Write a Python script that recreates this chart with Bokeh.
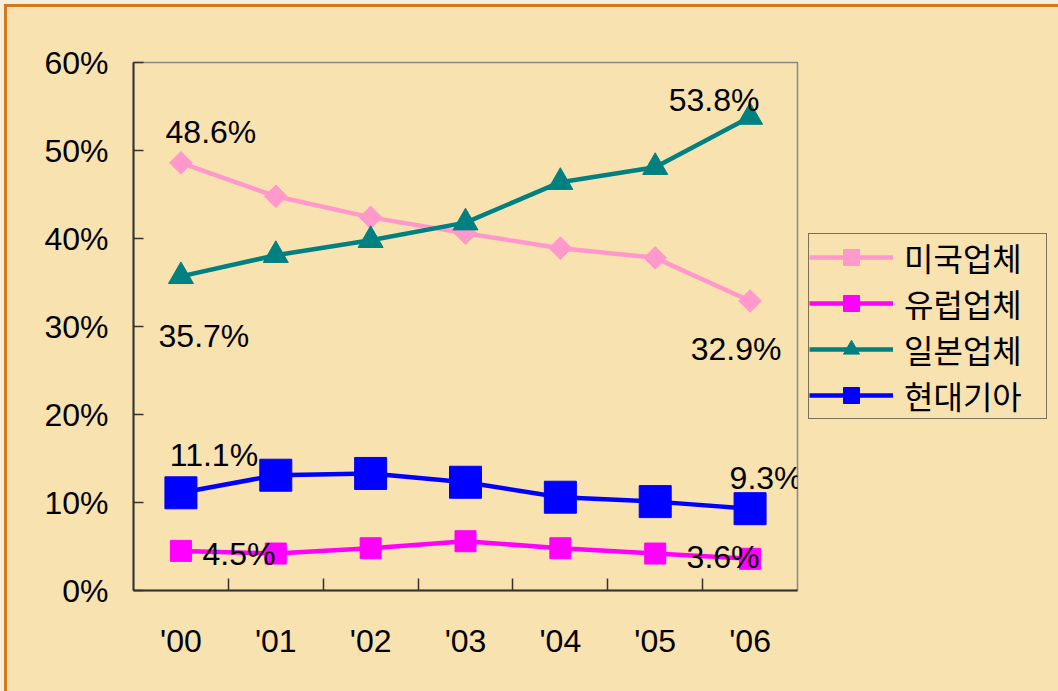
import numpy as np
from bokeh.plotting import figure
from bokeh.models import (FixedTicker, Legend, LegendItem, ColumnDataSource)
from bokeh.core.properties import value
from bokeh.embed import file_html
from bokeh.resources import INLINE

# ---------------- data ----------------
years = ["'00", "'01", "'02", "'03", "'04", "'05", "'06"]
y_ticks = [0, 10, 20, 30, 40, 50, 60]
y_tick_labels = ["0%", "10%", "20%", "30%", "40%", "50%", "60%"]

series_names = ["미국업체", "유럽업체", "일본업체", "현대기아"]
us = [48.6, 44.8, 42.4, 40.6, 38.9, 37.8, 32.9]
europe = [4.5, 4.2, 4.8, 5.6, 4.8, 4.2, 3.6]
japan = [35.7, 38.1, 39.8, 41.8, 46.4, 48.1, 53.8]
hyundai = [11.1, 13.1, 13.3, 12.3, 10.6, 10.1, 9.3]

# data labels: (series, year index, text)
label_series = ["us", "us", "japan", "japan", "hyundai", "hyundai", "europe", "europe"]
label_index = [0, 6, 0, 6, 0, 6, 0, 6]
label_text = ["48.6%", "32.9%", "35.7%", "53.8%", "11.1%", "9.3%", "4.5%", "3.6%"]
# pixel offsets of label centre from point (x right, y up)
label_dx = [30, -14, 23, -36, 33, 16, 58, -27]
label_dy = [31, -48, -60, 17, 38, 31, -3, 2]

# ---------------- styling ----------------
FILL = "#f8e2b0"
OUTER = "#f6efdc"
ORANGE = "#d8761a"
FONT = "Liberation Sans"
KFONT = "Liberation Sans, Noto Sans CJK KR"

x = np.arange(len(years)) + 0.5

p = figure(frame_width=664, frame_height=528, output_backend="svg", toolbar_location=None,
           x_range=(0, len(years)), y_range=(0, 60),
           min_border_left=126, min_border_right=261,
           min_border_top=55, min_border_bottom=101)
p.background_fill_color = FILL
p.border_fill_color = FILL
p.outline_line_color = "#888888"
p.outline_line_width = 1.5
p.grid.visible = False
p.styles = {"border-left": "3px solid " + ORANGE, "border-top": "3px solid " + ORANGE,
            "margin-left": "4px", "margin-top": "4px"}

# y axis
ya = p.yaxis[0]
ya.ticker = FixedTicker(ticks=y_ticks, minor_ticks=[])
ya.major_label_overrides = {t: l for t, l in zip(y_ticks, y_tick_labels)}
ya.major_tick_in = 10
ya.major_tick_out = 0
ya.minor_tick_in = 0
ya.minor_tick_out = 0
ya.axis_line_color = "#333333"
ya.axis_line_width = 2
ya.major_tick_line_color = "#333333"
ya.major_tick_line_width = 1.5
ya.major_label_standoff = 25
ya.major_label_text_font = FONT
ya.major_label_text_font_size = "32px"
ya.major_label_text_color = "black"

# x axis
xa = p.xaxis[0]
xa.ticker = FixedTicker(ticks=list(x), minor_ticks=list(range(1, len(years))))
xa.major_label_overrides = {float(v): l for v, l in zip(x, years)}
xa.major_tick_in = 0
xa.major_tick_out = 0
xa.minor_tick_in = 12
xa.minor_tick_out = 0
xa.minor_tick_line_color = "#333333"
xa.minor_tick_line_width = 1.5
xa.axis_line_color = "#333333"
xa.axis_line_width = 2
xa.major_label_standoff = 32
xa.major_label_text_font = FONT
xa.major_label_text_font_size = "32px"
xa.major_label_text_color = "black"

series = {"us": us, "europe": europe, "japan": japan, "hyundai": hyundai}
styles = [
    ("us", "#ff99cc", "square", 16, np.pi / 4),
    ("europe", "#ff00ff", "square", 21, 0),
    ("japan", "#008080", "triangle", 25, 0),
    ("hyundai", "#0000ff", "square", 32, 0),
]

items = []
for (key, color, marker, size, ang), name in zip(styles, series_names):
    src = ColumnDataSource(dict(x=x, y=series[key]))
    l = p.line("x", "y", source=src, line_color=color, line_width=4.5)
    s = p.scatter("x", "y", source=src, marker=marker, size=size, angle=ang,
                  fill_color=color, line_color=color)
    items.append(LegendItem(label=name, renderers=[l, s]))

# data labels
for key in ["us", "japan", "hyundai", "europe"]:
    idx = [i for i, k in enumerate(label_series) if k == key]
    for i in idx:
        j = label_index[i]
        p.text(x=[x[j]], y=[series[key][j]], text=[label_text[i]],
               x_offset=label_dx[i], y_offset=-label_dy[i],
               text_align="center", text_baseline="middle",
               text_font=value(FONT), text_font_size="32px", text_color="black")

legend = Legend(items=items, location="center_left")
legend.padding = 0
legend.margin = 11
legend.spacing = -4
legend.label_height = 40
legend.glyph_height = 40
legend.glyph_width = 84
legend.label_width = 142
legend.label_standoff = 11
legend.label_text_font = KFONT
legend.label_text_font_size = "32px"
legend.label_text_color = "black"
legend.border_line_color = "black"
legend.border_line_width = 1.2
legend.background_fill_alpha = 0
p.add_layout(legend, "right")

html = file_html(p, INLINE)
html = html.replace("</head>", "<style>html,body{background:%s;}</style></head>" % OUTER, 1)
open("out.html", "w").write(html)
